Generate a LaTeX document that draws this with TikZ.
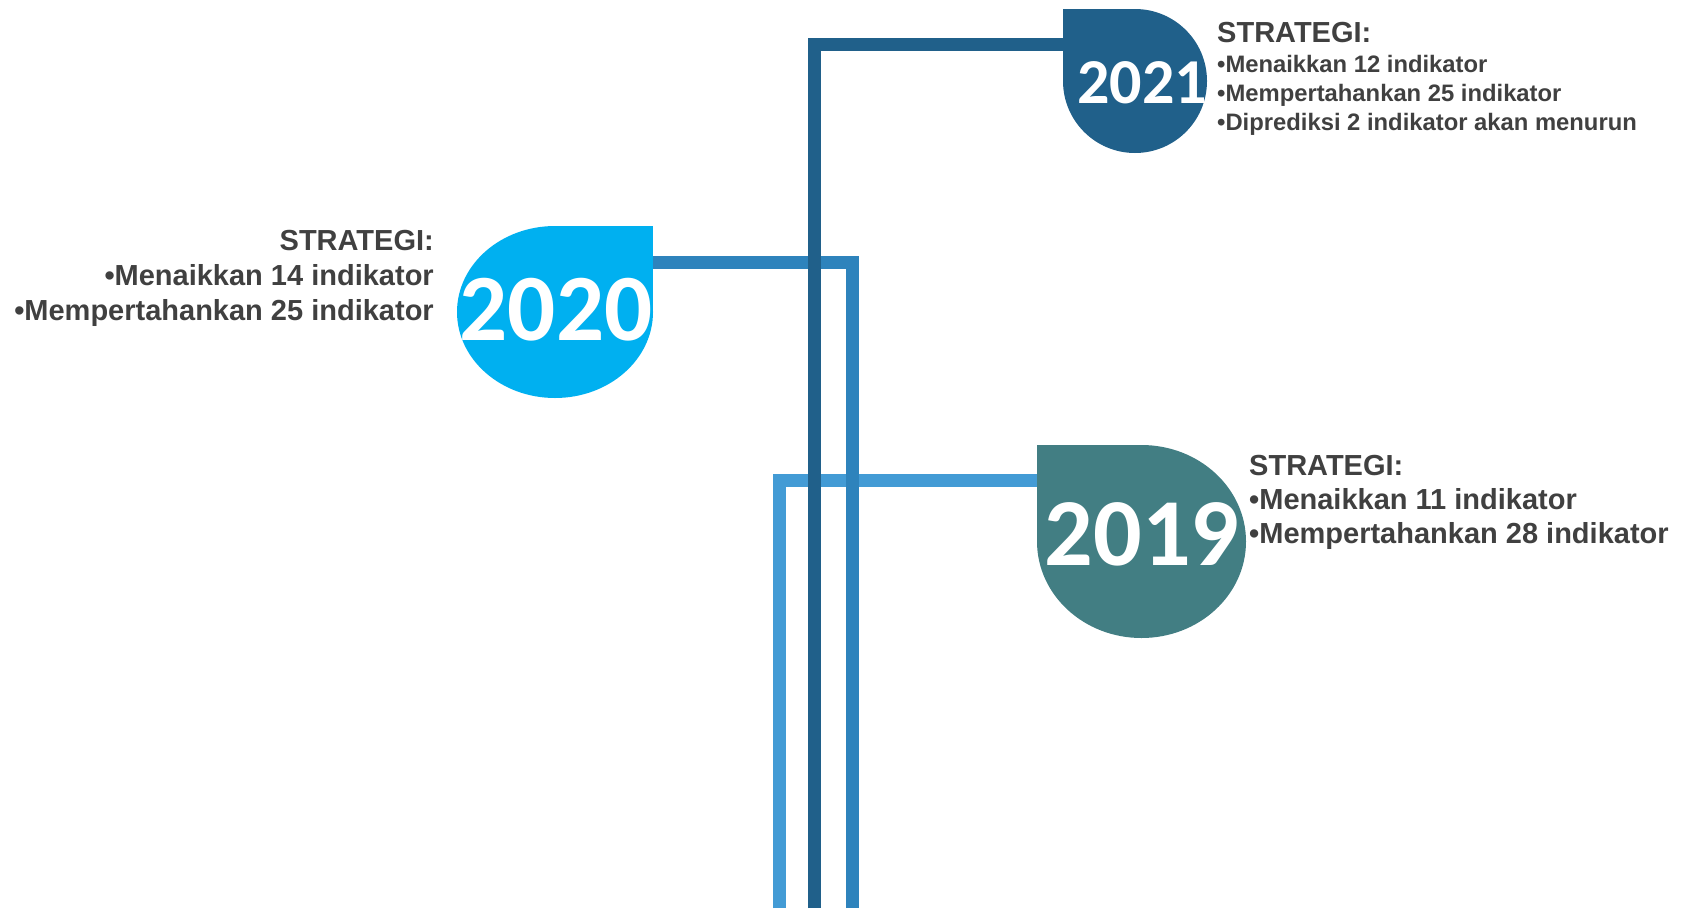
\documentclass[tikz,border=0pt]{standalone}
\usepackage{fontspec}
\setmainfont{Liberation Sans}
\newfontfamily\yearfont{Carlito}
\usepackage{tikz}
\usetikzlibrary{shapes.geometric}

\definecolor{drop2021}{RGB}{32,96,138}
\definecolor{drop2020}{RGB}{0,176,240}
\definecolor{drop2019}{RGB}{66,126,131}
\definecolor{line2020}{RGB}{46,131,188}
\definecolor{line2019}{RGB}{67,155,213}
\definecolor{textgray}{RGB}{64,64,64}

\begin{document}
\begin{tikzpicture}[x=1pt, y=-1pt,
            drop/.style={ellipse, inner sep=0pt, outer sep=0pt},
            year node/.style={inner sep=0pt, anchor=base, text=white, font=\yearfont\bfseries\fontsize{#1}{#1}\selectfont},
            head node/.style={inner sep=0pt, text=textgray, font=\bfseries\fontsize{29}{35}\selectfont},
            item node/.style={inner sep=0pt, text=textgray, font=\bfseries\fontsize{#1}{#1}\selectfont},
            route/.style={line width=13pt},
            ]
            \useasboundingbox (0,0) rectangle (1692,908);

            \coordinate (foot2019) at (779.5,908);
            \coordinate (foot2020) at (852,908);
            \coordinate (foot2021) at (814.5,908);

            \node[drop, minimum width=144pt, minimum height=144pt] (d2021) at (1135,81) {};
            \node[drop, minimum width=196pt, minimum height=172pt] (d2020) at (555,312) {};
            \node[drop, minimum width=209pt, minimum height=193pt] (d2019) at (1141.5,541.5) {};

            \draw[route, line2019] (foot2019) |- (d2019.center |- 0,480.5);
            \draw[route, line2020] (foot2020) |- (d2020.center |- 0,262.5);
            \draw[route, drop2021] (foot2021) |- (d2021.center |- 0,44.5);

            \fill[drop2021] (d2021.center) ellipse [x radius=72, y radius=72];
            \fill[drop2021] (d2021.west |- d2021.north) rectangle (d2021.center);
            \fill[drop2020] (d2020.center) ellipse [x radius=98, y radius=86];
            \fill[drop2020] (d2020.east |- d2020.north) rectangle (d2020.center);
            \fill[drop2019] (d2019.center) ellipse [x radius=104.5, y radius=96.5];
            \fill[drop2019] (d2019.west |- d2019.north) rectangle (d2019.center);

            \node[year node=64] (y2021) at (1142,103) {2021};
            \node[year node=95] (y2020) at (556,340) {2020};
            \node[year node=96] (y2019) at (1142,565) {2019};

            \node[head node, anchor=base west] (h2021) at (1217,42) {STRATEGI:};
            \node[item node=23.8, anchor=base west] (a2021) at (1217,72) {•Menaikkan 12 indikator};
            \node[item node=23.8, anchor=base west] (b2021) at (1217,101) {•Mempertahankan 25 indikator};
            \node[item node=23.8, anchor=base west] (c2021) at (1217,130) {•Diprediksi 2 indikator akan menurun};

            \node[head node, anchor=base east] (h2020) at (434,250) {STRATEGI:};
            \node[item node=29, anchor=base east] (a2020) at (434,285) {•Menaikkan 14 indikator};
            \node[item node=29, anchor=base east] (b2020) at (434,320) {•Mempertahankan 25 indikator};

            \node[head node, anchor=base west] (h2019) at (1249,475) {STRATEGI:};
            \node[item node=29, anchor=base west] (a2019) at (1249,509) {•Menaikkan 11 indikator};
            \node[item node=29, anchor=base west] (b2019) at (1249,543) {•Mempertahankan 28 indikator};
        \end{tikzpicture}
\end{document}
